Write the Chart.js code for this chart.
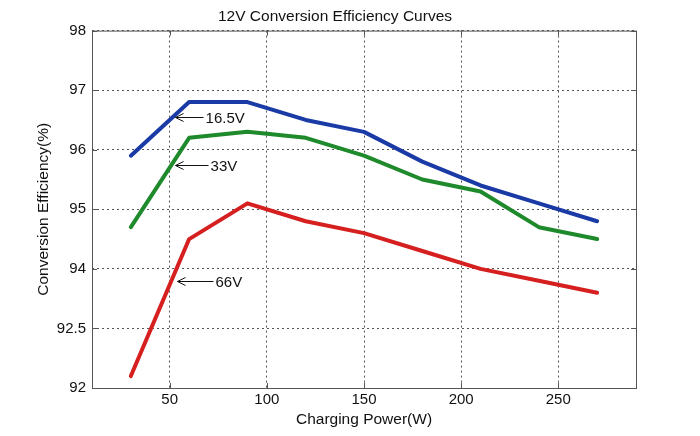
<!DOCTYPE html>
<html>
<head>
<meta charset="utf-8">
<script src="https://cdn.jsdelivr.net/npm/chart.js@4/dist/chart.umd.min.js"></script>
<style>
  html, body { margin: 0; padding: 0; background: #fff; }
  #wrap { width: 700px; height: 436px; }
</style>
</head>
<body>
<div id="wrap"><canvas id="myChart"></canvas></div>
<script>
// 충전 전력 (W)
const power = [30, 60, 90, 120, 150, 180, 210, 240, 270];
const eff165 = [95.9, 96.8, 96.8, 96.5, 96.3, 95.8, 95.4, 95.1, 94.8];
const eff33 = [94.7, 96.2, 96.3, 96.2, 95.9, 95.5, 95.3, 94.7, 94.5];
const eff66 = [92.2, 94.5, 95.1, 94.8, 94.6, 94.3, 94.0, 93.8, 93.6];

const xTicks = [50, 100, 150, 200, 250];
const yTicks = [92, 93, 94, 95, 96, 97, 98];
const yTickLabels = ['92', '92.5', '94', '95', '96', '97', '98'];

// 화살표 라벨
const arrowLabels = ['16.5V', '33V', '66V'];
const arrowX = [53, 53, 54];
const arrowY = [96.55, 95.75, 93.8];
const arrowLen = [28, 33, 36];

const FONT = 'Liberation Sans, Arial, sans-serif';

const boxPlugin = {
  id: 'boxPlugin',
  afterDraw(chart) {
    const { ctx, chartArea: a, scales } = chart;
    ctx.save();
    ctx.strokeStyle = '#555';
    ctx.lineWidth = 1;
    ctx.strokeRect(a.left + 0.5, a.top + 0.5, a.right - a.left, a.bottom - a.top);
    // 안쪽 눈금
    ctx.beginPath();
    xTicks.forEach(v => {
      const x = Math.round(scales.x.getPixelForValue(v)) + 0.5;
      ctx.moveTo(x, a.bottom); ctx.lineTo(x, a.bottom - 5);
      ctx.moveTo(x, a.top); ctx.lineTo(x, a.top + 5);
    });
    yTicks.forEach(v => {
      const y = Math.round(scales.y.getPixelForValue(v)) + 0.5;
      ctx.moveTo(a.left, y); ctx.lineTo(a.left + 5, y);
      ctx.moveTo(a.right, y); ctx.lineTo(a.right - 5, y);
    });
    ctx.stroke();

    // 화살표
    ctx.fillStyle = '#111';
    ctx.strokeStyle = '#111';
    ctx.font = '15px ' + FONT;
    ctx.textBaseline = 'middle';
    arrowLabels.forEach((t, i) => {
      const x = scales.x.getPixelForValue(arrowX[i]);
      const y = Math.round(scales.y.getPixelForValue(arrowY[i])) + 0.5;
      ctx.beginPath();
      ctx.moveTo(x, y); ctx.lineTo(x + arrowLen[i], y);
      ctx.moveTo(x + 8, y - 4); ctx.lineTo(x, y); ctx.lineTo(x + 8, y + 4);
      ctx.stroke();
      ctx.fillText(t, x + arrowLen[i] + 2, y + 1);
    });
    ctx.restore();
  }
};

const ctx = document.getElementById('myChart').getContext('2d');
const myChart = new Chart(ctx, {
  type: 'line',
  data: {
    datasets: [
      { label: '16.5V', data: power.map((p, i) => ({ x: p, y: eff165[i] })), borderColor: '#1a3aa6' },
      { label: '33V', data: power.map((p, i) => ({ x: p, y: eff33[i] })), borderColor: '#1e8a2c' },
      { label: '66V', data: power.map((p, i) => ({ x: p, y: eff66[i] })), borderColor: '#d61f1f' }
    ]
  },
  options: {
    responsive: true,
    maintainAspectRatio: false,
    animation: false,
    devicePixelRatio: 1,
    elements: {
      line: { borderWidth: 4, tension: 0, borderJoinStyle: 'round', borderCapStyle: 'round' },
      point: { radius: 0 }
    },
    layout: { padding: { left: 34, right: 64, top: 0, bottom: 0 } },
    plugins: {
      legend: { display: false },
      tooltip: { enabled: false },
      title: {
        display: true,
        text: '12V Conversion Efficiency Curves',
        color: '#111',
        font: { family: FONT, size: 15.5, weight: 'normal' },
        padding: { top: 7, bottom: 5 }
      }
    },
    scales: {
      x: {
        type: 'linear',
        min: 10,
        max: 290,
        afterBuildTicks: s => { s.ticks = xTicks.map(v => ({ value: v })); },
        afterFit: s => { s.height = 48; },
        grid: { color: '#555', drawTicks: false, lineWidth: 1 },
        border: { display: false, dash: [2, 3] },
        ticks: { color: '#111', padding: 3, font: { family: FONT, size: 15 }, maxRotation: 0 },
        title: {
          display: true, text: 'Charging Power(W)', color: '#111',
          font: { family: FONT, size: 15.5 }, padding: { top: 0, bottom: 7 }
        }
      },
      y: {
        type: 'linear',
        min: 92,
        max: 98,
        afterBuildTicks: s => { s.ticks = yTicks.map(v => ({ value: v })); },
        afterFit: s => { s.width = 58; },
        grid: { color: '#555', drawTicks: false, lineWidth: 1 },
        border: { display: false, dash: [2, 3] },
        ticks: {
          color: '#111', padding: 6, font: { family: FONT, size: 15 },
          callback: (v, i) => yTickLabels[i]
        },
        title: {
          display: true, text: 'Conversion Efficiency(%)', color: '#111',
          font: { family: FONT, size: 15.5 }, padding: { top: 0, bottom: 0 }
        }
      }
    }
  },
  plugins: [boxPlugin]
});
</script>
</body>
</html>
